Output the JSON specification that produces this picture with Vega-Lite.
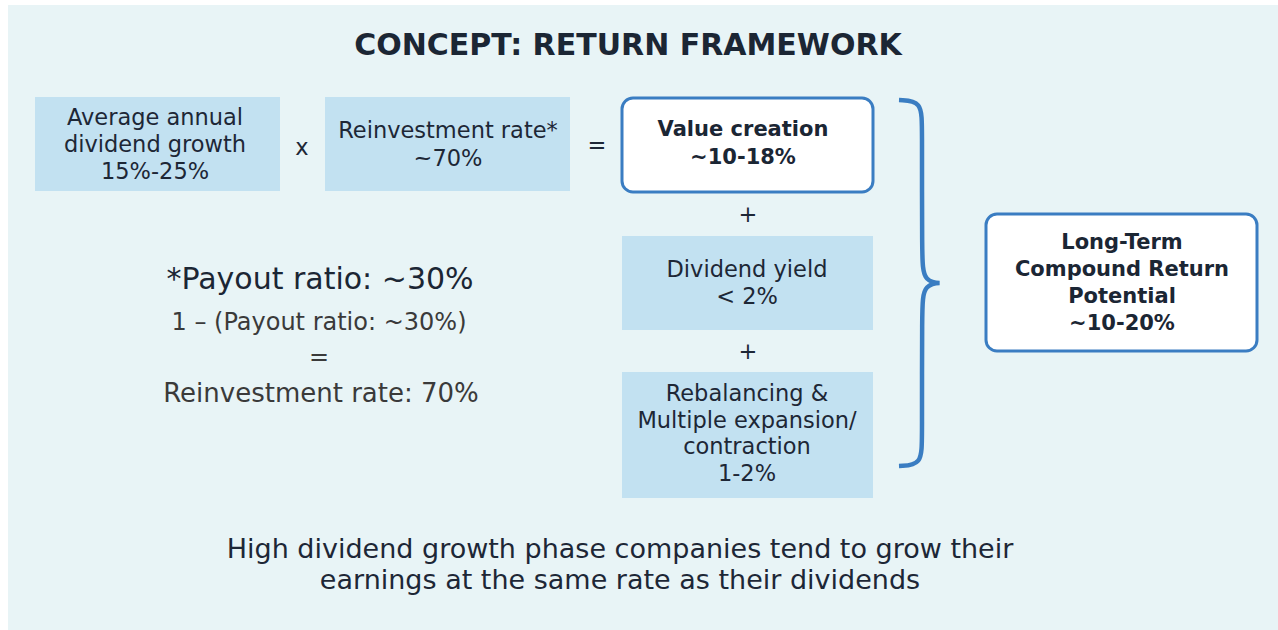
{
  "$schema": "https://vega.github.io/schema/vega-lite/v6.json",
  "width": 1278,
  "height": 630,
  "autosize": {"type": "fit", "contains": "padding"},
  "padding": 0,
  "background": "#ffffff",
  "config": {"view": {"stroke": null}, "axis": {"disable": true}},
  "datasets": {
    "panel": [{"x": 8, "x2": 1278, "y": 5, "y2": 630}],
    "boxes": [
      {"name": "growth", "x": 35, "x2": 280, "y": 97, "y2": 191},
      {"name": "reinvest", "x": 325, "x2": 570, "y": 97, "y2": 191},
      {"name": "yield", "x": 622, "x2": 873, "y": 236, "y2": 330},
      {"name": "rebalancing", "x": 622, "x2": 873, "y": 372, "y2": 498}
    ],
    "outcomes": [
      {"name": "value", "x": 622, "x2": 873, "y": 98, "y2": 192},
      {"name": "longterm", "x": 986, "x2": 1257, "y": 214, "y2": 351}
    ],
    "brace": [
      {"o": 1, "x": 899, "y": 100},
      {"o": 2, "x": 922, "y": 101},
      {"o": 3, "x": 922, "y": 128},
      {"o": 4, "x": 922, "y": 256},
      {"o": 5, "x": 923, "y": 283},
      {"o": 6, "x": 948, "y": 283},
      {"o": 7, "x": 923, "y": 283},
      {"o": 8, "x": 922, "y": 310},
      {"o": 9, "x": 922, "y": 438},
      {"o": 10, "x": 922, "y": 465},
      {"o": 11, "x": 899, "y": 466}
    ],
    "labels": [
      {"role": "title", "x": 628, "y": 46, "t": "CONCEPT: RETURN FRAMEWORK"},
      {"role": "box", "x": 155, "y": 118, "t": "Average annual"},
      {"role": "box", "x": 155, "y": 145, "t": "dividend growth"},
      {"role": "box", "x": 155, "y": 172, "t": "15%-25%"},
      {"role": "box", "x": 448, "y": 131, "t": "Reinvestment rate*"},
      {"role": "box", "x": 448, "y": 159, "t": "~70%"},
      {"role": "box", "x": 747, "y": 270, "t": "Dividend yield"},
      {"role": "box", "x": 747, "y": 297, "t": "< 2%"},
      {"role": "box", "x": 747, "y": 394, "t": "Rebalancing &"},
      {"role": "box", "x": 747, "y": 421, "t": "Multiple expansion/"},
      {"role": "box", "x": 747, "y": 447, "t": "contraction"},
      {"role": "box", "x": 747, "y": 474, "t": "1-2%"},
      {"role": "bold", "x": 743, "y": 130, "t": "Value creation"},
      {"role": "bold", "x": 743, "y": 158, "t": "~10-18%"},
      {"role": "bold", "x": 1122, "y": 243, "t": "Long-Term"},
      {"role": "bold", "x": 1122, "y": 270, "t": "Compound Return"},
      {"role": "bold", "x": 1122, "y": 297, "t": "Potential"},
      {"role": "bold", "x": 1122, "y": 324, "t": "~10-20%"},
      {"role": "op", "x": 302, "y": 148, "t": "x"},
      {"role": "op", "x": 597, "y": 146, "t": "="},
      {"role": "op", "x": 748, "y": 215, "t": "+"},
      {"role": "op", "x": 748, "y": 352, "t": "+"},
      {"role": "big", "x": 320, "y": 280, "t": "*Payout ratio: ~30%"},
      {"role": "mid", "x": 319, "y": 323, "t": "1 – (Payout ratio: ~30%)"},
      {"role": "mid", "x": 319, "y": 358, "t": "="},
      {"role": "mid2", "x": 321, "y": 394, "t": "Reinvestment rate: 70%"},
      {"role": "note", "x": 620, "y": 550, "t": "High dividend growth phase companies tend to grow their"},
      {"role": "note", "x": 620, "y": 581, "t": "earnings at the same rate as their dividends"}
    ]
  },
  "encoding": {
    "x": {"field": "x", "type": "quantitative", "scale": {"domain": [0, 1278], "nice": false, "zero": false}, "axis": null},
    "y": {"field": "y", "type": "quantitative", "scale": {"domain": [0, 630], "nice": false, "zero": false, "reverse": true}, "axis": null}
  },
  "layer": [
    {
      "data": {"name": "panel"},
      "mark": {"type": "rect", "fill": "#e8f4f6"},
      "encoding": {"x2": {"field": "x2"}, "y2": {"field": "y2"}}
    },
    {
      "data": {"name": "boxes"},
      "mark": {"type": "rect", "fill": "#c2e1f1"},
      "encoding": {"x2": {"field": "x2"}, "y2": {"field": "y2"}}
    },
    {
      "data": {"name": "outcomes"},
      "mark": {"type": "rect", "fill": "#ffffff", "stroke": "#3a7dc2", "strokeWidth": 3, "cornerRadius": 11},
      "encoding": {"x2": {"field": "x2"}, "y2": {"field": "y2"}}
    },
    {
      "data": {"name": "brace"},
      "mark": {"type": "line", "stroke": "#3a7dc2", "strokeWidth": 4.5, "interpolate": "basis", "strokeCap": "butt"},
      "encoding": {"order": {"field": "o", "type": "quantitative"}}
    },
    {
      "data": {"name": "labels"},
      "transform": [{"filter": "datum.role === 'title'"}],
      "mark": {"type": "text", "font": "DejaVu Sans", "fontSize": 30, "fontWeight": "bold", "color": "#1b2634", "baseline": "middle", "align": "center"},
      "encoding": {"text": {"field": "t"}}
    },
    {
      "data": {"name": "labels"},
      "transform": [{"filter": "datum.role === 'box' || datum.role === 'op'"}],
      "mark": {"type": "text", "font": "DejaVu Sans", "fontSize": 22.5, "color": "#1d2736", "baseline": "middle", "align": "center"},
      "encoding": {"text": {"field": "t"}}
    },
    {
      "data": {"name": "labels"},
      "transform": [{"filter": "datum.role === 'bold'"}],
      "mark": {"type": "text", "font": "DejaVu Sans", "fontSize": 21, "fontWeight": "bold", "color": "#1b2634", "baseline": "middle", "align": "center"},
      "encoding": {"text": {"field": "t"}}
    },
    {
      "data": {"name": "labels"},
      "transform": [{"filter": "datum.role === 'big'"}],
      "mark": {"type": "text", "font": "DejaVu Sans", "fontSize": 30, "color": "#1b2634", "baseline": "middle", "align": "center"},
      "encoding": {"text": {"field": "t"}}
    },
    {
      "data": {"name": "labels"},
      "transform": [{"filter": "datum.role === 'mid'"}],
      "mark": {"type": "text", "font": "DejaVu Sans", "fontSize": 24, "color": "#3a3a3a", "baseline": "middle", "align": "center"},
      "encoding": {"text": {"field": "t"}}
    },
    {
      "data": {"name": "labels"},
      "transform": [{"filter": "datum.role === 'mid2'"}],
      "mark": {"type": "text", "font": "DejaVu Sans", "fontSize": 26, "color": "#3a3a3a", "baseline": "middle", "align": "center"},
      "encoding": {"text": {"field": "t"}}
    },
    {
      "data": {"name": "labels"},
      "transform": [{"filter": "datum.role === 'note'"}],
      "mark": {"type": "text", "font": "DejaVu Sans", "fontSize": 27, "color": "#1d2736", "baseline": "middle", "align": "center"},
      "encoding": {"text": {"field": "t"}}
    }
  ]
}
